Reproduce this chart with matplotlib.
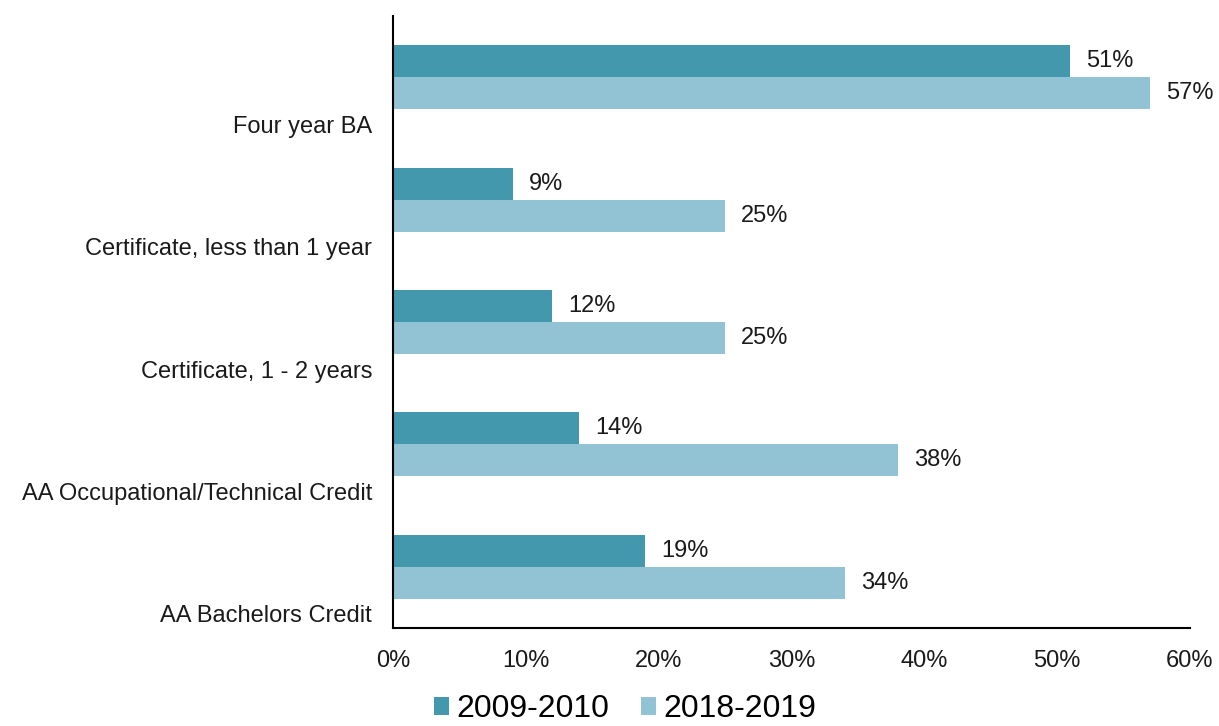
import matplotlib
matplotlib.use("Agg")
import matplotlib.pyplot as plt
from matplotlib.ticker import FuncFormatter
import numpy as np

plt.rcParams['font.family'] = ['Liberation Sans', 'DejaVu Sans']

categories = ["Four year BA", "Certificate, less than 1 year", "Certificate, 1 - 2 years",
              "AA Occupational/Technical Credit", "AA Bachelors Credit"]
series_names = ["2009-2010", "2018-2019"]
vals_2009 = [51, 9, 12, 14, 19]
vals_2018 = [57, 25, 25, 38, 34]
colors = ["#4398AE", "#92C3D4"]

fig = plt.figure(figsize=(12.19, 7.26), dpi=100)
ax = fig.add_axes([0.3224, 0.135, 0.6538, 0.843])

y = np.arange(len(categories))
h = 0.2614
b1 = ax.barh(y - h / 2, vals_2009, height=h, color=colors[0], label=series_names[0])
b2 = ax.barh(y + h / 2, vals_2018, height=h, color=colors[1], label=series_names[1])

for bars, vals in ((b1, vals_2009), (b2, vals_2018)):
    for rect, v in zip(bars, vals):
        ax.annotate(f"{v}%", (rect.get_width(), rect.get_y() + rect.get_height() / 2),
                    xytext=(16, 0), textcoords="offset pixels", va="center", ha="left",
                    fontsize=17, color="#1a1a1a")

ax.set_xlim(0, 60)
ax.set_ylim(len(categories) - 0.5, -0.5)
ax.set_xticks(np.arange(0, 61, 10))
ax.xaxis.set_major_formatter(FuncFormatter(lambda v, p: f"{int(v)}%"))
ax.set_yticks(y + 0.385)
ax.set_yticklabels(categories)
ax.tick_params(axis="both", length=0, labelsize=17, colors="#1a1a1a")
ax.tick_params(axis="x", pad=16)
ax.tick_params(axis="y", pad=15)
for s in ("top", "right"):
    ax.spines[s].set_visible(False)
for s in ("left", "bottom"):
    ax.spines[s].set_color("black")
    ax.spines[s].set_linewidth(1.5)

fig.legend(handles=[b1, b2], labels=series_names, loc="center", bbox_to_anchor=(0.513, 0.023),
           ncol=2, frameon=False, fontsize=23, handlelength=0.45, handleheight=0.45,
           handletextpad=0.25, columnspacing=1.0, borderaxespad=0)

fig.savefig("out.png", dpi=100)
